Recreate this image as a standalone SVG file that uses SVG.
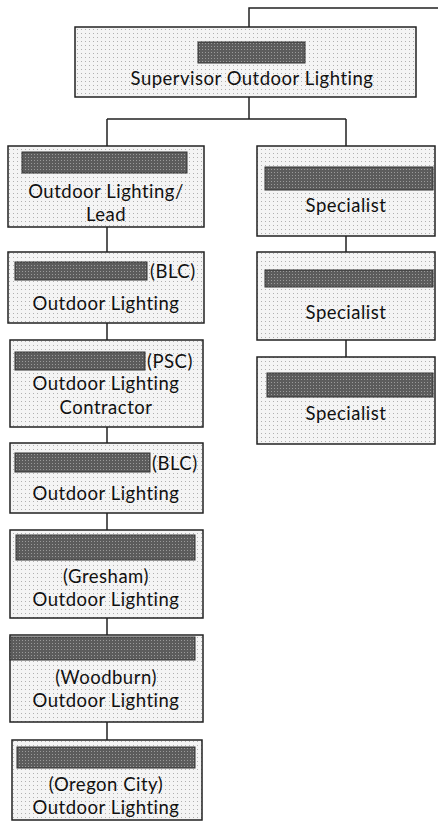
<svg xmlns="http://www.w3.org/2000/svg" width="438" height="835" viewBox="0 0 438 835">
<defs>
<pattern id="dots" width="4" height="4" patternUnits="userSpaceOnUse">
<rect width="4" height="4" fill="#f4f4f4"/>
<rect x="1" y="1" width="1" height="1" fill="#b0b0b0"/>
</pattern>
<pattern id="bar" width="3" height="3" patternUnits="userSpaceOnUse">
<rect width="3" height="3" fill="#5c5c5c"/>
<rect x="1" y="1" width="1" height="1" fill="#9a9a9a"/>
</pattern>
</defs>
<style>
.box{fill:url(#dots);stroke:#222;stroke-width:1.5}
.bar{fill:url(#bar);stroke:#333;stroke-width:1}
.t{font-family:Lato,"Open Sans",sans-serif;font-size:18.5px;letter-spacing:0.5px;fill:#111;text-anchor:middle;dominant-baseline:central}
.s{text-anchor:start}
.c{fill:none;stroke:#222;stroke-width:1.5}
</style>
<rect width="438" height="835" fill="#fff"/>
<g id="connectors">
<path class="c" d="M438 8H249V27"/>
<path class="c" d="M249 97V119M107 119H346M107 119V146M346 119V146"/>
<path class="c" d="M107 227V252M107 323V340M107 427V443M107 513V530M107 618V635M107 722V740"/>
<path class="c" d="M346 236V252M346 340V357"/>
</g>
<g id="n-supervisor">
<rect class="box" x="75" y="27" width="341" height="70"/>
<rect class="bar" x="198" y="42" width="107" height="21"/>
<text class="t" x="252" y="78">Supervisor Outdoor Lighting</text>
</g>
<g id="n-lead">
<rect class="box" x="8" y="146" width="196" height="81"/>
<rect class="bar" x="22" y="152" width="165" height="21"/>
<text class="t" x="106" y="191">Outdoor Lighting/</text>
<text class="t" x="106" y="214">Lead</text>
</g>
<g id="n-blc1">
<rect class="box" x="8" y="252" width="196" height="71"/>
<rect class="bar" x="15" y="262" width="132" height="18"/>
<text class="t s" x="150" y="271">(BLC)</text>
<text class="t" x="106" y="303">Outdoor Lighting</text>
</g>
<g id="n-psc">
<rect class="box" x="10" y="340" width="193" height="87"/>
<rect class="bar" x="15" y="352" width="130" height="18"/>
<text class="t s" x="147" y="361">(PSC)</text>
<text class="t" x="106" y="383">Outdoor Lighting</text>
<text class="t" x="106" y="407">Contractor</text>
</g>
<g id="n-blc2">
<rect class="box" x="10" y="443" width="193" height="70"/>
<rect class="bar" x="15" y="453" width="135" height="19"/>
<text class="t s" x="152" y="463">(BLC)</text>
<text class="t" x="106" y="493">Outdoor Lighting</text>
</g>
<g id="n-gresham">
<rect class="box" x="10" y="530" width="193" height="88"/>
<rect class="bar" x="16" y="535" width="179" height="25"/>
<text class="t" x="106" y="576">(Gresham)</text>
<text class="t" x="106" y="599">Outdoor Lighting</text>
</g>
<g id="n-woodburn">
<rect class="box" x="10" y="635" width="193" height="87"/>
<rect class="bar" x="10" y="637" width="185" height="23"/>
<text class="t" x="106" y="677">(Woodburn)</text>
<text class="t" x="106" y="700">Outdoor Lighting</text>
</g>
<g id="n-oregon">
<rect class="box" x="12" y="740" width="190" height="80"/>
<rect class="bar" x="17" y="747" width="178" height="21"/>
<text class="t" x="106" y="784">(Oregon City)</text>
<text class="t" x="106" y="807">Outdoor Lighting</text>
</g>
<g id="n-spec1">
<rect class="box" x="257" y="146" width="178" height="90"/>
<rect class="bar" x="265" y="167" width="168" height="23"/>
<text class="t" x="346" y="205">Specialist</text>
</g>
<g id="n-spec2">
<rect class="box" x="257" y="252" width="178" height="88"/>
<rect class="bar" x="265" y="270" width="168" height="17"/>
<text class="t" x="346" y="312">Specialist</text>
</g>
<g id="n-spec3">
<rect class="box" x="257" y="357" width="178" height="87"/>
<rect class="bar" x="267" y="373" width="166" height="24"/>
<text class="t" x="346" y="413">Specialist</text>
</g>
</svg>
